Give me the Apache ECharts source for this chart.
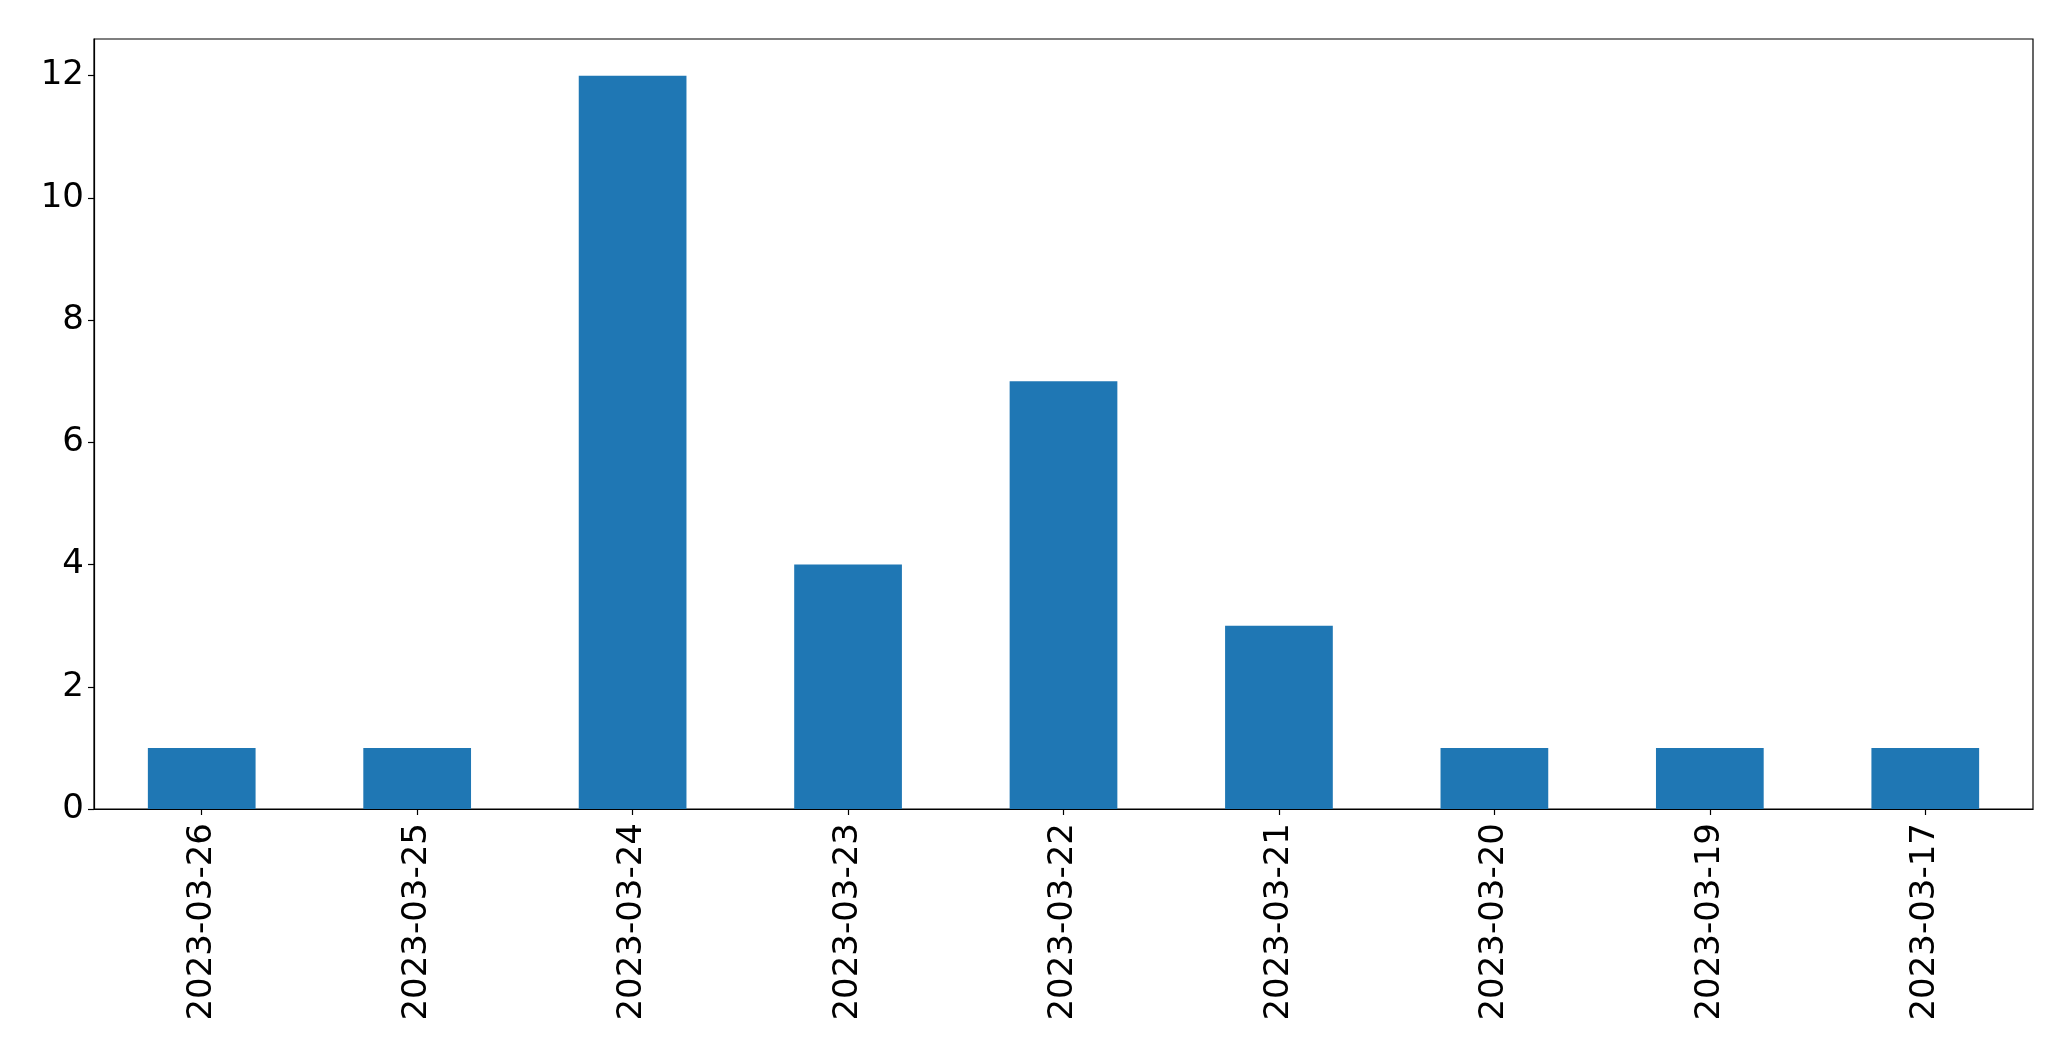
<!DOCTYPE html>
<html>
<head>
<meta charset="utf-8">
<script src="https://cdn.jsdelivr.net/npm/echarts@6/dist/echarts.min.js"></script>
<style>
html,body{margin:0;padding:0;background:#fff;}
#chart{width:2071px;height:1061px;}
</style>
</head>
<body>
<div id="chart"></div>
<script>
const categories = ['2023-03-26','2023-03-25','2023-03-24','2023-03-23','2023-03-22','2023-03-21','2023-03-20','2023-03-19','2023-03-17'];
const values = [1, 1, 12, 4, 7, 3, 1, 1, 1];
const yTicks = [0, 2, 4, 6, 8, 10, 12];

const chart = echarts.init(document.getElementById('chart'), null, {renderer: 'canvas'});
const font = 'DejaVu Sans';
chart.setOption({
  animation: false,
  backgroundColor: '#ffffff',
  grid: {left: 94, top: 39, width: 1939, height: 770, show: true, borderColor: '#000', borderWidth: 1.2, containLabel: false},
  xAxis: {
    type: 'category',
    data: categories,
    boundaryGap: true,
    axisLine: {show: true, lineStyle: {color: '#000', width: 1.2}},
    axisTick: {show: true, alignWithLabel: true, length: 6, lineStyle: {color: '#000', width: 1.2}},
    axisLabel: {rotate: 90, margin: 14, fontSize: 34, fontFamily: font, color: '#000', interval: 0},
    splitLine: {show: false}
  },
  yAxis: {
    type: 'value',
    min: 0,
    max: 12.6,
    axisLine: {show: true, lineStyle: {color: '#000', width: 1.2}},
    axisTick: {show: true, length: 6, customValues: yTicks, lineStyle: {color: '#000', width: 1.2}},
    axisLabel: {margin: 10, fontSize: 34, fontFamily: font, color: '#000', customValues: yTicks},
    splitLine: {show: false}
  },
  series: [{
    type: 'bar',
    data: values,
    barWidth: '50%',
    itemStyle: {color: '#1f77b4'}
  }]
});
</script>
</body>
</html>
